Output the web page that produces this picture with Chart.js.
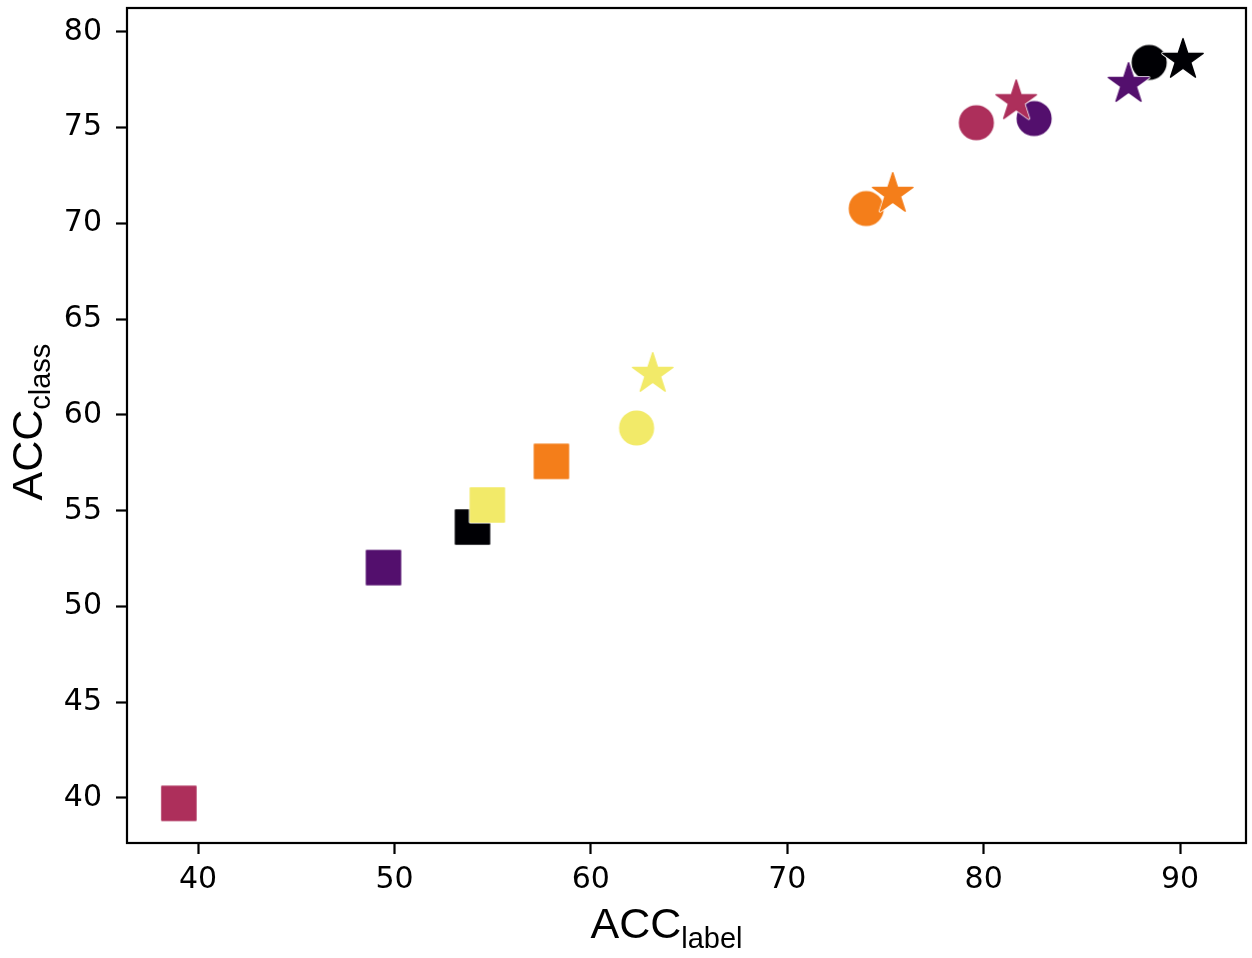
<!DOCTYPE html>
<html lang="en">
<head>
    <meta charset="UTF-8">
    <title>ACC label vs ACC class</title>
    <script src="https://cdn.jsdelivr.net/npm/chart.js"></script>
    <style>
        body {
            margin: 0;
            background-color: #ffffff;
        }
        .chart-wrapper {
            position: relative;
            width: 1252px;
            height: 958px;
        }
    </style>
</head>
<body>
    <div class="chart-wrapper">
        <canvas id="chart"></canvas>
    </div>

    <script>
        // values, one entry per colour (black, purple, crimson, orange, yellow)
        const squareX = [53.97, 49.44, 39.02, 57.99, 54.73];
        const squareY = [54.15, 52.03, 39.72, 57.58, 55.30];
        const circleX = [88.43, 82.57, 79.63, 74.02, 62.33];
        const circleY = [78.41, 75.48, 75.26, 70.78, 59.32];
        const starX = [90.15, 87.38, 81.66, 75.37, 63.15];
        const starY = [78.54, 77.28, 76.38, 71.54, 62.14];

        const xTicks = [40, 50, 60, 70, 80, 90];
        const yTicks = [40, 45, 50, 55, 60, 65, 70, 75, 80];

        const colors = ['#000004', '#530f6d', '#ad2f5b', '#f47e1a', '#f2ea69'];

        // marker images (matplotlib style filled star, square, circle)
        function makeMarker(shape, color) {
            const size = 54;
            const c = document.createElement('canvas');
            c.width = size;
            c.height = size;
            const g = c.getContext('2d');
            const m = size / 2;
            g.beginPath();
            if (shape === 'star') {
                const R = 21.2, r = R * 0.381966;
                for (let i = 0; i < 10; i++) {
                    const a = -Math.PI / 2 + i * Math.PI / 5;
                    const rad = i % 2 === 0 ? R : r;
                    const px = m + rad * Math.cos(a), py = m + rad * Math.sin(a);
                    if (i === 0) g.moveTo(px, py); else g.lineTo(px, py);
                }
                g.closePath();
            } else if (shape === 'square') {
                g.rect(m - 17, m - 17, 34, 34);
            } else {
                g.arc(m, m, 16.8, 0, Math.PI * 2);
            }
            g.lineJoin = 'round';
            // thin white rim first, then the coloured marker with its own edge
            g.strokeStyle = '#ffffff';
            g.lineWidth = 3;
            g.stroke();
            g.fillStyle = color;
            g.fill();
            g.strokeStyle = color;
            g.lineWidth = 1.5;
            g.stroke();
            return c;
        }

        function points(xs, ys) {
            return xs.map((x, i) => ({x: x, y: ys[i]}));
        }

        const axisTitles = {
            id: 'axisTitles',
            afterDraw(chart) {
                const ctx = chart.ctx;
                const area = chart.chartArea;
                ctx.save();
                // box round the plot
                ctx.strokeStyle = '#000000';
                ctx.lineWidth = 2.2;
                ctx.strokeRect(area.left, area.top, area.right - area.left, area.bottom - area.top);

                ctx.fillStyle = '#000000';
                ctx.textBaseline = 'alphabetic';
                ctx.textAlign = 'left';
                const big = '43px "Liberation Sans", Arial, sans-serif';
                const small = '29px "Liberation Sans", Arial, sans-serif';

                // x title: ACC_label
                ctx.font = big;
                const wx = ctx.measureText('ACC').width;
                const cx = (area.left + area.right) / 2 - 96;
                const by = area.bottom + 95;
                ctx.fillText('ACC', cx, by);
                ctx.font = small;
                ctx.fillText('label', cx + wx, by + 10);

                // y title: ACC_class
                const cy = (area.top + area.bottom) / 2 + 75;
                ctx.translate(42, cy);
                ctx.rotate(-Math.PI / 2);
                ctx.font = big;
                const wy = ctx.measureText('ACC').width;
                ctx.fillText('ACC', 0, 0);
                ctx.font = small;
                ctx.fillText('class', wy, 8);
                ctx.restore();
            }
        };

        const tickFont = {family: '"DejaVu Sans", sans-serif', size: 30};

        new Chart(document.getElementById('chart').getContext('2d'), {
            type: 'scatter',
            data: {
                datasets: [
                    {
                        label: 'star',
                        data: points(starX, starY),
                        pointStyle: colors.map(c => makeMarker('star', c))
                    },
                    {
                        label: 'circle',
                        data: points(circleX, circleY),
                        pointStyle: colors.map(c => makeMarker('circle', c))
                    },
                    {
                        label: 'square',
                        data: points(squareX, squareY),
                        pointStyle: colors.map(c => makeMarker('square', c))
                    }
                ]
            },
            options: {
                responsive: true,
                maintainAspectRatio: false,
                animation: false,
                events: [],
                layout: {
                    padding: {top: 8, right: 6, left: 0, bottom: 0}
                },
                plugins: {
                    legend: {display: false},
                    tooltip: {enabled: false}
                },
                scales: {
                    x: {
                        type: 'linear',
                        min: 36.38,
                        max: 93.36,
                        afterFit: scale => {
                            scale.height = 115;
                            scale.paddingLeft = 0;
                            scale.paddingRight = 0;
                        },
                        afterBuildTicks: scale => { scale.ticks = xTicks.map(v => ({value: v})); },
                        border: {display: false},
                        grid: {
                            drawOnChartArea: false,
                            drawTicks: true,
                            tickLength: 11,
                            tickWidth: 2.2,
                            tickColor: '#000000'
                        },
                        ticks: {
                            color: '#000000',
                            font: tickFont,
                            padding: 8,
                            maxRotation: 0
                        }
                    },
                    y: {
                        type: 'linear',
                        min: 37.65,
                        max: 81.25,
                        afterFit: scale => {
                            scale.width = 127;
                            scale.paddingTop = 0;
                            scale.paddingBottom = 0;
                        },
                        afterBuildTicks: scale => { scale.ticks = yTicks.map(v => ({value: v})); },
                        border: {display: false},
                        grid: {
                            drawOnChartArea: false,
                            drawTicks: true,
                            tickLength: 11,
                            tickWidth: 2.2,
                            tickColor: '#000000'
                        },
                        ticks: {
                            color: '#000000',
                            font: tickFont,
                            padding: 14
                        }
                    }
                }
            },
            plugins: [axisTitles]
        });
    </script>
</body>
</html>
